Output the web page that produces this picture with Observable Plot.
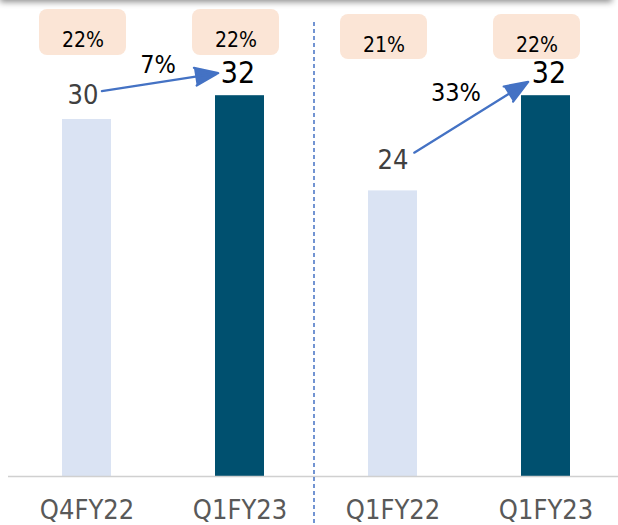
<!DOCTYPE html>
<html>
<head>
<meta charset="utf-8">
<script src="https://cdn.jsdelivr.net/npm/d3@7"></script>
<script src="https://cdn.jsdelivr.net/npm/@observablehq/plot@0.6"></script>
<style>
  html, body { margin: 0; padding: 0; background: #fff; overflow: hidden; }
  #wrap { position: relative; width: 618px; height: 525px; }
  #shadow { position: absolute; left: 0; top: -10px; width: 612px; height: 10px; background: #fff;
            box-shadow: 0 2px 6px rgba(0,0,0,0.45); z-index: 2; }
</style>
</head>
<body>
<div id="wrap"><div id="shadow"></div></div>
<script>
// ---- data ----
const categories = ["Q4FY22", "Q1FY23", "Q1FY22", "Q1FY23"];
const panels     = ["A", "A", "B", "B"];
const periodType = ["prior", "current", "prior", "current"];
const values     = [30, 32, 24, 32];
const marginPct  = ["22%", "22%", "21%", "22%"];
const growthPanels = ["A", "B"];
const growthLabels = ["7%", "33%"];

const data = categories.map((c, i) => ({
  key: i, label: c, panel: panels[i], type: periodType[i], value: values[i], margin: marginPct[i]
}));
const arrows = growthPanels.map((p, j) => {
  const rows = data.filter(d => d.panel === p);
  const prior = rows.find(d => d.type === "prior");
  const cur = rows.find(d => d.type === "current");
  return {panel: p, from: prior.key, to: cur.key, v0: prior.value, v1: cur.value, growth: growthLabels[j]};
});

const GRAY_FONT = "'DejaVu Sans Condensed', 'DejaVu Sans', sans-serif";
const BLACK_FONT = "'DejaVu Sans Condensed', sans-serif";

// per-panel styling tweaks
const style = {
  A: {boxDx: -4, boxTop: 9, boxBottom: 421, boxText: 32, priorDx: -4, priorDy: -16, curDx: -2,
      growthDx: -82, growthDy: -31, arrowDy: -26, inS: 15, inE: 22},
  B: {boxDx: -9, boxTop: 14, boxBottom: 417, boxText: 36.5, priorDx: 0, priorDy: -22, curDx: 3,
      growthDx: -90, growthDy: -3, arrowDy: -25, inS: 25, inE: 21}
};

const panelMarks = growthPanels.flatMap(p => {
  const s = style[p];
  const rows = data.filter(d => d.panel === p);
  const ar = arrows.filter(a => a.panel === p);
  return [
    Plot.rect(rows, {x: "key", fill: "#FBE5D6", rx: 8, insetLeft: -19, insetRight: -19,
      dx: s.boxDx, insetTop: s.boxTop, insetBottom: s.boxBottom}),
    Plot.text(rows, {x: "key", text: "margin", frameAnchor: "top", dy: s.boxText, dx: s.boxDx,
      fontSize: 21, fontFamily: BLACK_FONT, fill: "#000"}),
    Plot.text(rows.filter(d => d.type === "prior"), {x: "key", y: "value", text: d => String(d.value),
      lineAnchor: "bottom", dy: s.priorDy, dx: s.priorDx, fontSize: 27, fontFamily: GRAY_FONT, fill: "#404040"}),
    Plot.text(rows.filter(d => d.type === "current"), {x: "key", y: "value", text: d => String(d.value),
      lineAnchor: "bottom", dy: -13, dx: s.curDx, fontSize: 30, fontFamily: BLACK_FONT, fill: "#000"}),
    Plot.arrow(ar, {x1: "from", y1: "v0", x2: "to", y2: "v1", dy: s.arrowDy,
      insetStart: s.inS, insetEnd: s.inE, stroke: "#4472C4", fill: "#4472C4", strokeWidth: 2.2,
      headLength: 17, headAngle: 42}),
    Plot.text(ar, {x: "to", y: "v1", text: "growth", dx: s.growthDx, dy: s.growthDy,
      fontSize: 25, fontFamily: BLACK_FONT, fill: "#000"})
  ];
});

const chart = Plot.plot({
  width: 618,
  height: 525,
  marginTop: 0,
  marginBottom: 49,
  marginLeft: 13,
  marginRight: 0,
  style: {background: "#fff", fontFamily: GRAY_FONT},
  x: {type: "band", domain: data.map(d => d.key), paddingInner: 0.68, paddingOuter: 0.313, label: null},
  y: {domain: [0, 40], axis: null},
  color: {domain: ["prior", "current"], range: ["#DAE3F3", "#00506F"]},
  marks: [
    Plot.barY(data, {x: "key", y: "value", fill: "type"}),
    Plot.ruleY([0], {stroke: "#D0D0D0", strokeWidth: 1.5, insetLeft: -5}),
    Plot.ruleX([2], {x: d => d, dx: -79, stroke: "#4472C4", strokeWidth: 1.5, strokeDasharray: "4,3",
      insetTop: 22, insetBottom: -49}),
    Plot.axisX({tickSize: 0, tickPadding: 23, fontSize: 27, fill: "#595959", fontFamily: GRAY_FONT,
      tickFormat: i => categories[i], label: null}),
    ...panelMarks
  ]
});
document.getElementById("wrap").appendChild(chart);
</script>
</body>
</html>
